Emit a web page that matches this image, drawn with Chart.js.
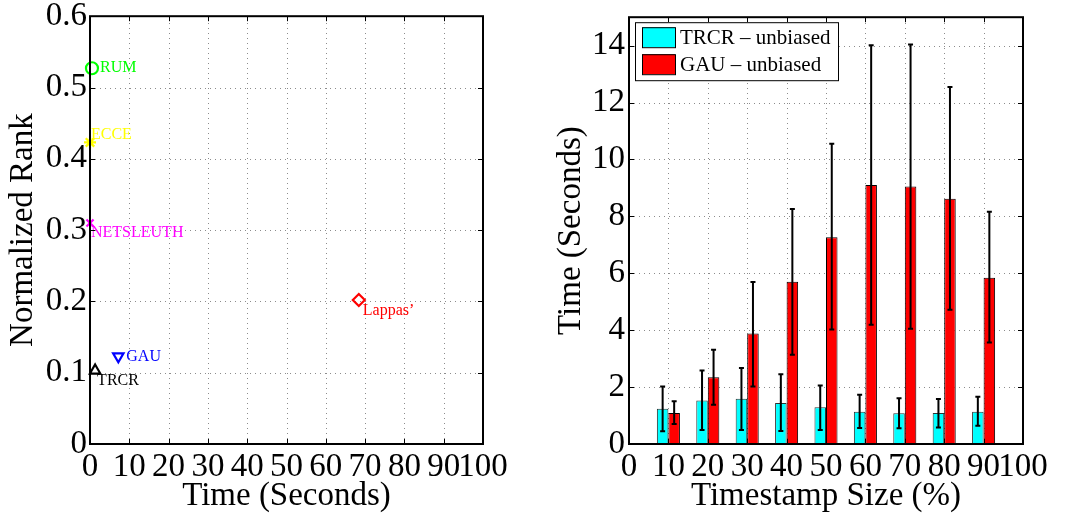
<!DOCTYPE html>
<html lang="en">
<head>
<meta charset="UTF-8" />
<title>Normalized rank and running time</title>
<script src="https://cdn.jsdelivr.net/npm/chart.js"></script>
<style>
  html, body { margin: 0; padding: 0; background: #fff; }
  #wrap { position: relative; width: 1070px; height: 517px; }
  #wrap canvas { position: absolute; top: 0; }
</style>
</head>
<body>
<div id="wrap">
  <canvas id="rankChart" width="535" height="517" style="left:0"></canvas>
  <canvas id="timeChart" width="535" height="517" style="left:535px"></canvas>
</div>
<script>
// left panel: normalized rank against running time
const methods = ['RUM', 'ECCE', 'NETSLEUTH', 'Lappas’', 'GAU', 'TRCR'];
const runTimes = [0.5, 0, 0, 68.4, 7.2, 1.3];
const ranks = [0.527, 0.423, 0.31, 0.202, 0.123, 0.103];

// right panel: running time against timestamp size
const sizes = [10, 20, 30, 40, 50, 60, 70, 80, 90];
const trcrTime = [1.24, 1.53, 1.59, 1.44, 1.29, 1.13, 1.08, 1.09, 1.13];
const trcrLow = [0.45, 0.49, 0.49, 0.46, 0.49, 0.56, 0.55, 0.58, 0.64];
const trcrHigh = [2.02, 2.58, 2.67, 2.45, 2.06, 1.73, 1.61, 1.58, 1.66];
const gauTime = [1.09, 2.35, 3.88, 5.70, 7.27, 9.10, 9.05, 8.62, 5.84];
const gauLow = [0.70, 1.38, 2.02, 3.14, 4.02, 4.19, 4.05, 4.72, 3.57];
const gauHigh = [1.50, 3.31, 5.69, 8.26, 10.55, 14.01, 14.04, 12.55, 8.16];

const serif = 'Liberation Serif, Times New Roman, serif';

const markerStyle = {
  'RUM':       { color: '#00ff00', style: 'circle', r: 6, rot: 0, dx: 8, dy: 0 },
  'ECCE':      { color: '#ffff00', style: 'star', r: 6, rot: 0, dx: 1, dy: -8 },
  'NETSLEUTH': { color: '#ff00ff', style: 'crossRot', r: 5, rot: 0, dx: 1, dy: 10 },
  'Lappas’':   { color: '#ff0000', style: 'rectRot', r: 6, rot: 0, dx: 4, dy: 11 },
  'GAU':       { color: '#0000ff', style: 'triangle', r: 6, rot: 180, dx: 8, dy: 0 },
  'TRCR':      { color: '#000000', style: 'triangle', r: 6, rot: 0, dx: 2, dy: 10 }
};

// dotted matlab-style grid, drawn under the data
const dottedGrid = {
  id: 'dottedGrid',
  beforeDatasetsDraw(chart) {
    const { ctx, chartArea: a, scales } = chart;
    ctx.save();
    ctx.strokeStyle = '#8c8c8c';
    ctx.lineWidth = 1;
    ctx.setLineDash([1, 4]);
    ctx.beginPath();
    scales.x.ticks.forEach(t => {
      const px = Math.round(scales.x.getPixelForValue(t.value)) + 0.5;
      if (px < a.left + 2 || px > a.right - 2) return;
      ctx.moveTo(px, a.bottom); ctx.lineTo(px, a.top);
    });
    scales.y.ticks.forEach(t => {
      const py = Math.round(scales.y.getPixelForValue(t.value)) + 0.5;
      if (py < a.top + 2 || py > a.bottom - 2) return;
      ctx.moveTo(a.left, py); ctx.lineTo(a.right, py);
    });
    ctx.stroke();
    ctx.restore();
  }
};

// box around the plot area with inward tick marks, like the matlab axes
const framePlugin = {
  id: 'frame',
  afterDraw(chart) {
    const { ctx, chartArea: a, scales } = chart;
    ctx.save();
    ctx.strokeStyle = '#000';
    ctx.lineWidth = 1;
    ctx.beginPath();
    scales.x.ticks.forEach(t => {
      const px = Math.round(scales.x.getPixelForValue(t.value)) + 0.5;
      ctx.moveTo(px, a.bottom); ctx.lineTo(px, a.bottom - 5);
      ctx.moveTo(px, a.top); ctx.lineTo(px, a.top + 5);
    });
    scales.y.ticks.forEach(t => {
      const py = Math.round(scales.y.getPixelForValue(t.value)) + 0.5;
      ctx.moveTo(a.left, py); ctx.lineTo(a.left + 5, py);
      ctx.moveTo(a.right, py); ctx.lineTo(a.right - 5, py);
    });
    ctx.stroke();
    ctx.lineWidth = 2;
    ctx.strokeRect(a.left, a.top, a.right - a.left, a.bottom - a.top);
    ctx.restore();
  }
};

const pointLabels = {
  id: 'pointLabels',
  afterDatasetsDraw(chart) {
    const ctx = chart.ctx;
    ctx.save();
    ctx.font = '16px ' + serif;
    ctx.textAlign = 'left';
    ctx.textBaseline = 'middle';
    chart.data.datasets.forEach((ds, i) => {
      const el = chart.getDatasetMeta(i).data[0];
      const s = markerStyle[ds.label];
      ctx.fillStyle = s.color;
      ctx.fillText(ds.label, el.x + s.dx, el.y + s.dy);
    });
    ctx.restore();
  }
};

const errorBars = {
  id: 'errorBars',
  afterDatasetsDraw(chart) {
    const { ctx, scales } = chart;
    ctx.save();
    ctx.strokeStyle = '#000';
    ctx.lineWidth = 2;
    chart.data.datasets.forEach((ds, i) => {
      chart.getDatasetMeta(i).data.forEach((bar, j) => {
        const y1 = scales.y.getPixelForValue(ds.lower[j]);
        const y2 = scales.y.getPixelForValue(ds.upper[j]);
        ctx.beginPath();
        ctx.moveTo(bar.x, y1); ctx.lineTo(bar.x, y2);
        ctx.moveTo(bar.x - 2.5, y1); ctx.lineTo(bar.x + 2.5, y1);
        ctx.moveTo(bar.x - 2.5, y2); ctx.lineTo(bar.x + 2.5, y2);
        ctx.stroke();
      });
    });
    ctx.restore();
  }
};

const boxLegend = {
  id: 'boxLegend',
  afterDraw(chart) {
    const ctx = chart.ctx;
    const a = chart.chartArea;
    const x0 = a.left + 6, y0 = a.top + 5;
    ctx.save();
    ctx.fillStyle = '#fff';
    ctx.fillRect(x0, y0, 203, 58);
    ctx.strokeStyle = '#000';
    ctx.lineWidth = 1;
    ctx.strokeRect(x0 + 0.5, y0 + 0.5, 203, 58);
    ctx.font = '21px ' + serif;
    ctx.textBaseline = 'middle';
    chart.data.datasets.forEach((ds, i) => {
      const sy = y0 + 5 + i * 27;
      ctx.fillStyle = ds.backgroundColor;
      ctx.fillRect(x0 + 7, sy, 33, 20);
      ctx.strokeRect(x0 + 7.5, sy + 0.5, 33, 20);
      ctx.fillStyle = '#000';
      ctx.fillText(ds.label, x0 + 45, sy + 11);
    });
    ctx.restore();
  }
};

function axisFont(size) {
  return { family: serif, size: size, lineHeight: 0.8 };
}

function commonScale(min, max, step, titleText, pad) {
  return {
    type: 'linear',
    min: min, max: max,
    offset: false,
    grid: { display: false, drawTicks: false, offset: false },
    border: { display: false },
    ticks: {
      stepSize: step, autoSkip: false, maxRotation: 0, includeBounds: false,
      color: '#000', font: axisFont(33), padding: pad
    },
    title: { display: true, text: titleText, color: '#000', font: { family: serif, size: 33 } }
  };
}

// ---- left chart
const rankX = commonScale(0, 100, 10, 'Time (Seconds)', 10);
rankX.title.padding = { top: 0, bottom: 1 };
rankX.afterFit = s => { s.height = 73; };
const rankY = commonScale(0, 0.6, 0.1, 'Normalized Rank', 3);
rankY.title.padding = { top: 4, bottom: 0 };
rankY.afterFit = s => { s.width = 90; };

new Chart(document.getElementById('rankChart'), {
  type: 'scatter',
  data: {
    datasets: methods.map((m, i) => {
      const s = markerStyle[m];
      return {
        label: m,
        data: [{ x: runTimes[i], y: ranks[i] }],
        pointStyle: s.style,
        pointRadius: s.r,
        pointRotation: s.rot,
        pointBorderWidth: 2.2,
        borderColor: s.color,
        backgroundColor: 'rgba(0,0,0,0)',
        clip: false
      };
    })
  },
  options: {
    responsive: false,
    animation: false,
    layout: { padding: { left: 0, right: 52, top: 14, bottom: 0 } },
    plugins: { legend: { display: false }, tooltip: { enabled: false } },
    scales: { x: rankX, y: rankY }
  },
  plugins: [dottedGrid, framePlugin, pointLabels]
});

// ---- right chart
const timeX = commonScale(0, 100, 10, 'Timestamp Size (%)', 10);
timeX.title.padding = { top: 0, bottom: 1 };
timeX.afterFit = s => { s.height = 73; };
const timeY = commonScale(0, 15, 2, 'Time (Seconds)', 4);
timeY.title.padding = { top: 17, bottom: 0 };
timeY.afterFit = s => { s.width = 94; };

new Chart(document.getElementById('timeChart'), {
  type: 'bar',
  data: {
    datasets: [
      {
        label: 'TRCR – unbiased',
        data: sizes.map((s, i) => ({ x: s, y: trcrTime[i] })),
        backgroundColor: '#00ffff',
        borderColor: '#333',
        borderWidth: 1,
        lower: trcrLow,
        upper: trcrHigh
      },
      {
        label: 'GAU – unbiased',
        data: sizes.map((s, i) => ({ x: s, y: gauTime[i] })),
        backgroundColor: '#ff0000',
        borderColor: '#000',
        borderWidth: 1,
        lower: gauLow,
        upper: gauHigh
      }
    ]
  },
  options: {
    responsive: false,
    animation: false,
    categoryPercentage: 0.585,
    barPercentage: 1,
    layout: { padding: { left: 0, right: 47, top: 14, bottom: 0 } },
    plugins: { legend: { display: false }, tooltip: { enabled: false } },
    scales: { x: timeX, y: timeY }
  },
  plugins: [dottedGrid, framePlugin, errorBars, boxLegend]
});
</script>
</body>
</html>
